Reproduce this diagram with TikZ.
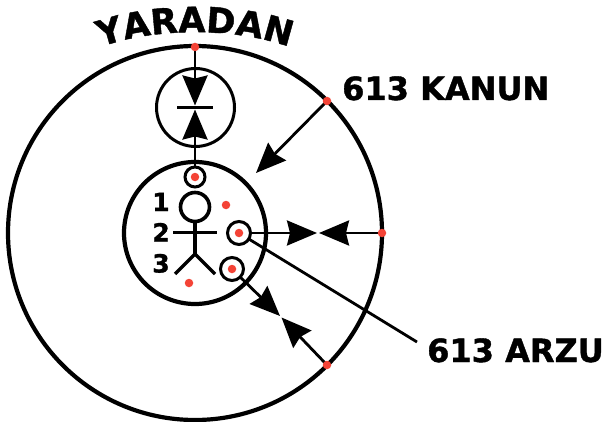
\documentclass[tikz,border=0pt]{standalone}
\usepackage{fontspec}
\setmainfont{DejaVu Sans}
\newfontfamily\heavy[FakeBold=1.2]{DejaVu Sans Bold}
\usetikzlibrary{arrows.meta,decorations.text}
\definecolor{dotred}{HTML}{F44336}
\tikzset{
  big/.style={circle,draw=black,line width=4.2pt,minimum size=#1,inner sep=0pt,outer sep=0pt},
  ring/.style={circle,draw=black,line width=3pt,fill=white,minimum size=#1,inner sep=0pt,outer sep=0pt},
  dot/.style={circle,fill=dotred,minimum size=8.5pt,inner sep=0pt,outer sep=0pt},
  lab/.style={font=\heavy\fontsize{32}{36}\selectfont,anchor=base west,inner sep=0pt},
  num/.style={font=\heavy\fontsize{25}{28}\selectfont,anchor=base,inner sep=0pt},
  conn/.style={line width=2.8pt,draw=black},
  arr/.style={conn,-{Stealth[length=30pt,width=25pt,inset=3pt]}},
  fig/.style={line width=3.5pt}
}
\begin{document}
\begin{tikzpicture}[x=1pt,y=-1pt]
\useasboundingbox (0,0) rectangle (604,422);
\fill[white] (0,0) rectangle (604,422);
\node[big=374pt] (outer) at (195,233) {};
\node[big=142pt] (inner) at (195,233) {};
\node[big=78pt,line width=3pt] (upper) at (195.5,107.5) {};
% red points on the outer circle
\coordinate (topc) at (195,47);
\coordinate (eastc) at (382,233);
\coordinate (nec) at (327,101);
\coordinate (sec) at (327,365);
% meeting points
\coordinate (barL) at (177,107.5);
\coordinate (barR) at (213,107.5);
\coordinate (barT) at (195,105.5);
\coordinate (barB) at (195,109.5);
\coordinate (kanunTip) at (256,173);
\coordinate (eastTip1) at (317,233);
\coordinate (eastTip2) at (319,233);
\coordinate (seTip1) at (280,316);
\coordinate (seTip2) at (281.5,317.5);
\coordinate (arzuEnd) at (417,342);
% rings
\coordinate (r1) at (195,177);
\coordinate (r2) at (239,233);
\coordinate (r3) at (232,269);
% connectors
\draw[conn] (barL) -- (barR);
\draw[arr] (topc) -- (barT);
\draw[arr] (r1) -- (barB);
\draw[arr] (nec) -- (kanunTip);
\draw[arr] (r2) -- (eastTip1);
\draw[arr] (eastc) -- (eastTip2);
\draw[arr] (r3) -- (seTip1);
\draw[arr] (sec) -- (seTip2);
\draw[conn] (r2) -- (arzuEnd);
% rings on top of the lines
\node[ring=20pt] (r1b) at (r1) {};
\node[ring=23pt] (r2b) at (r2) {};
\node[ring=23pt] (r3b) at (r3) {};
\node[dot] (d1) at (r1) {};
\node[dot] (d2) at (r2) {};
\node[dot] (d3) at (r3) {};
\node[dot] (d4) at (226,205) {};
\node[dot] (d5) at (189,283) {};
\node[dot] (top) at (topc) {};
\node[dot] (east) at (eastc) {};
\node[dot] (ne) at (nec) {};
\node[dot] (se) at (sec) {};
% stick figure
\node[circle,draw=black,line width=3.6pt,minimum size=29pt,inner sep=0pt,outer sep=0pt] (head) at (195,207) {};
\coordinate (armL) at (173,232.5);
\coordinate (armR) at (217,232.5);
\coordinate (hip) at (195,254);
\coordinate (legL) at (175,274);
\coordinate (legR) at (215,274);
\draw[fig] (head) -- (hip);
\draw[fig] (armL) -- (armR);
\draw[fig,miter limit=3] (legL) -- (hip) -- (legR);
% labels
\node[num] (n1) at (161,211) {1};
\node[num] (n2) at (161,241.5) {2};
\node[num] (n3) at (161,272.5) {3};
\node[lab] (kanun) at (342,100) {613 KANUN};
\node[lab] (arzu) at (427,362) {613 ARZU};
\path[postaction={decorate,decoration={text along path,text align=center,
  text={|\heavy\fontsize{35}{38}\selectfont|YARADAN}}}]
  (90,51) .. controls (150,26) and (240,26) .. (300,51);
\end{tikzpicture}
\end{document}
